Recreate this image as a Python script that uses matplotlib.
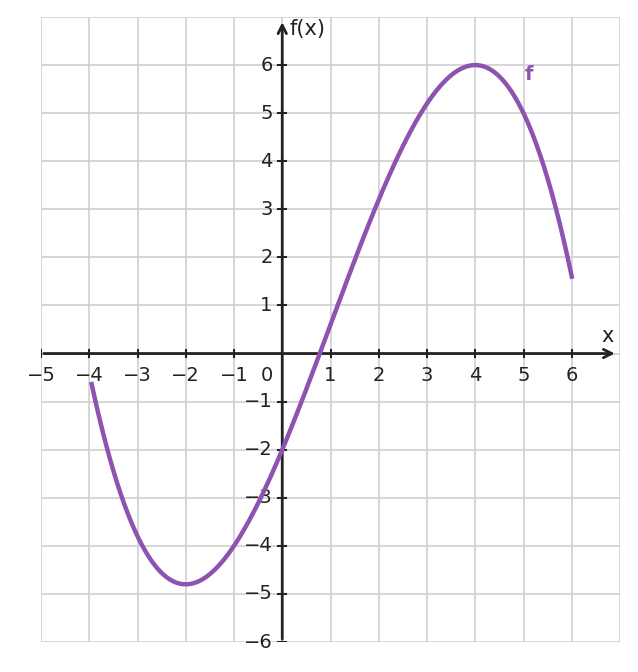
import numpy as np
import matplotlib
matplotlib.use("Agg")
import matplotlib.pyplot as plt

# cubic f(x) = c3 x^3 + c2 x^2 + c1 x + c0 (min at -2, max at 4)
coeffs = [-0.1, 0.3, 2.4, -2.0]
x_start, x_end = -3.95, 6.0
xticks = [-5, -4, -3, -2, -1, 1, 2, 3, 4, 5, 6]
yticks = [-6, -5, -4, -3, -2, -1, 1, 2, 3, 4, 5, 6]

purple = "#8e52b0"
fig = plt.figure(figsize=(6.38, 6.72), dpi=100)
ax = fig.add_axes([41/638, 30/672, 579/638, 625/672])
ax.set_xlim(-5, 7)
ax.set_ylim(-6, 7)
for s in ax.spines.values():
    s.set_visible(False)
ax.set_xticks([]); ax.set_yticks([])
for g in range(-5, 8):
    ax.axvline(g, color="#d0d0d0", lw=1.2, zorder=0)
for g in range(-6, 8):
    ax.axhline(g, color="#d0d0d0", lw=1.2, zorder=0)

ax.annotate("", xy=(6.95, 0), xytext=(-5, 0),
            arrowprops=dict(arrowstyle="->", color="#222222", lw=2, mutation_scale=15))
ax.annotate("", xy=(0, 6.95), xytext=(0, -6),
            arrowprops=dict(arrowstyle="->", color="#222222", lw=2, mutation_scale=15))
fs = 14
for t in xticks:
    ax.plot([t, t], [-0.08, 0.08], color="#222222", lw=1.5)
    ax.text(t, -0.25, f"{t}".replace("-", "\u2212"), ha="center", va="top", fontsize=fs, color="#222222")
for t in yticks:
    ax.plot([-0.08, 0.08], [t, t], color="#222222", lw=1.5)
    ax.text(-0.2, t, f"{t}".replace("-", "\u2212"), ha="right", va="center", fontsize=fs, color="#222222")
ax.text(-0.2, -0.25, "0", ha="right", va="top", fontsize=fs, color="#222222")
ax.text(6.75, 0.15, "x", ha="center", va="bottom", fontsize=fs+1, color="#222222")
ax.text(0.15, 6.75, "f(x)", ha="left", va="center", fontsize=fs+1, color="#222222")

xs = np.linspace(x_start, x_end, 400)
ys = np.polyval(coeffs, xs)
ax.plot(xs, ys, color=purple, lw=3.2, zorder=3)
ax.text(5.12, 5.8, "f", color=purple, fontsize=fs, fontweight="bold", ha="center", va="center")
fig.savefig("out.png", dpi=100)
